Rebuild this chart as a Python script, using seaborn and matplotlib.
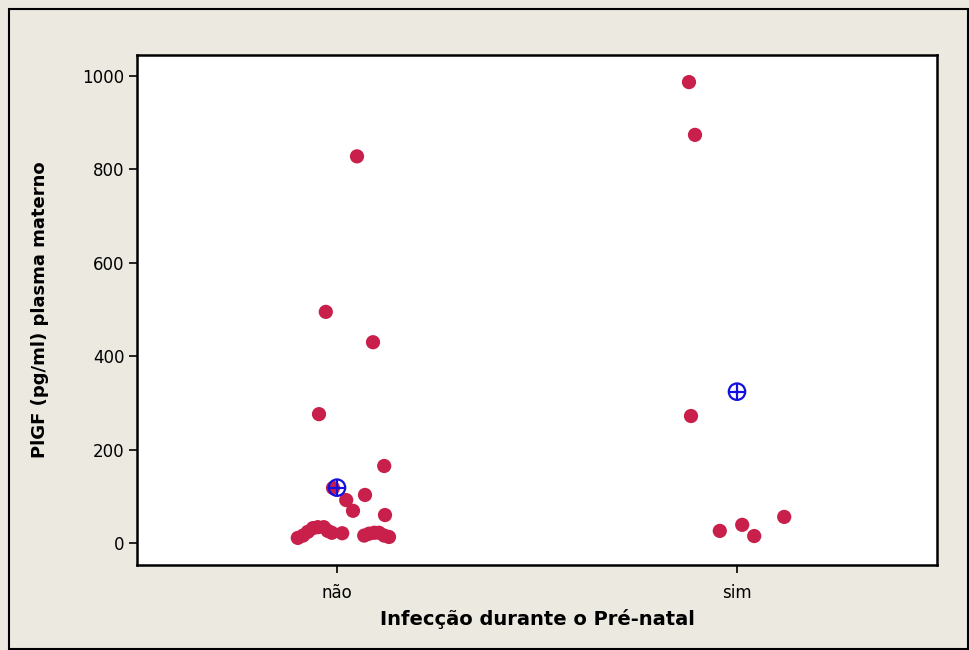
import numpy as np
import pandas as pd
import matplotlib
matplotlib.use("Agg")
import matplotlib.pyplot as plt
import seaborn as sns
from matplotlib.patches import Rectangle

# ---- data ----
categories = ["não", "sim"]
nao_values = [828, 495, 430, 276, 165, 118, 103, 92, 69, 60,
              11, 16, 24, 32, 34, 34, 26, 22, 21, 16, 20, 22, 22, 16, 13]
nao_jitter = [0.05, -0.028, 0.09, -0.045, 0.118, -0.01, 0.07, 0.023, 0.04, 0.12,
              -0.098, -0.085, -0.073, -0.06, -0.048, -0.033, -0.023, -0.013, 0.013,
              0.068, 0.08, 0.093, 0.105, 0.118, 0.13]
sim_values = [987, 874, 272, 26, 39, 15, 56]
sim_jitter = [-0.12, -0.105, -0.115, -0.043, 0.013, 0.043, 0.118]
y_ticks = [0, 200, 400, 600, 800, 1000]
x_label = "Infecção durante o Pré-natal"
y_label = "PlGF (pg/ml) plasma materno"

sns.set_style("white")
plt.rcParams["font.family"] = ["DejaVu Sans"]

rows = []
for code, (cat, vals, jit) in enumerate(zip(categories, [nao_values, sim_values],
                                            [nao_jitter, sim_jitter])):
    for v, j in zip(vals, jit):
        rows.append({"grupo": cat, "code": code, "x": code + j, "valor": v})
df = pd.DataFrame(rows)
means = df.groupby("code", as_index=False)["valor"].mean()

BG = "#ECE9E0"
fig = plt.figure(figsize=(9.7, 6.5), dpi=100, facecolor=BG)
ax = fig.add_axes([137 / 970, 1 - 565 / 650, 800 / 970, 510 / 650])
ax.set_facecolor("white")

sns.scatterplot(data=df, x="x", y="valor", ax=ax, color="#C8204A", s=105,
                edgecolor="none", linewidth=0, legend=False, zorder=3)
sns.scatterplot(data=means, x="code", y="valor", ax=ax, marker="o", s=140,
                facecolor="none", edgecolor="#1010E0", linewidth=1.6, zorder=4,
                legend=False)
ax.scatter(means["code"], means["valor"], marker="+", s=140, color="#1010E0",
           linewidths=1.6, zorder=5)

ax.set_xlim(-0.5, 1.5)
ax.set_ylim(-47, 1045)
ax.set_xticks(range(len(categories)))
ax.set_xticklabels(categories)
ax.set_yticks(y_ticks)
ax.tick_params(axis="both", which="both", direction="out", length=6, width=1.2,
               color="black", labelsize=12, labelcolor="black", left=True, bottom=True,
               pad=3)
ax.tick_params(axis="x", pad=8)
for s in ax.spines.values():
    s.set_visible(True)
    s.set_color("black")
    s.set_linewidth(1.8)
ax.set_xlabel(x_label, fontsize=14, fontweight="bold", labelpad=5, color="black")
ax.set_ylabel(y_label, fontsize=13, fontweight="bold", labelpad=24, color="black")

fig.patches.append(Rectangle((9 / 970, 1 / 650), 959.5 / 970, 640 / 650,
                             transform=fig.transFigure, fill=False,
                             edgecolor="black", linewidth=1.5))

fig.savefig("out.png", dpi=100, facecolor=BG)
